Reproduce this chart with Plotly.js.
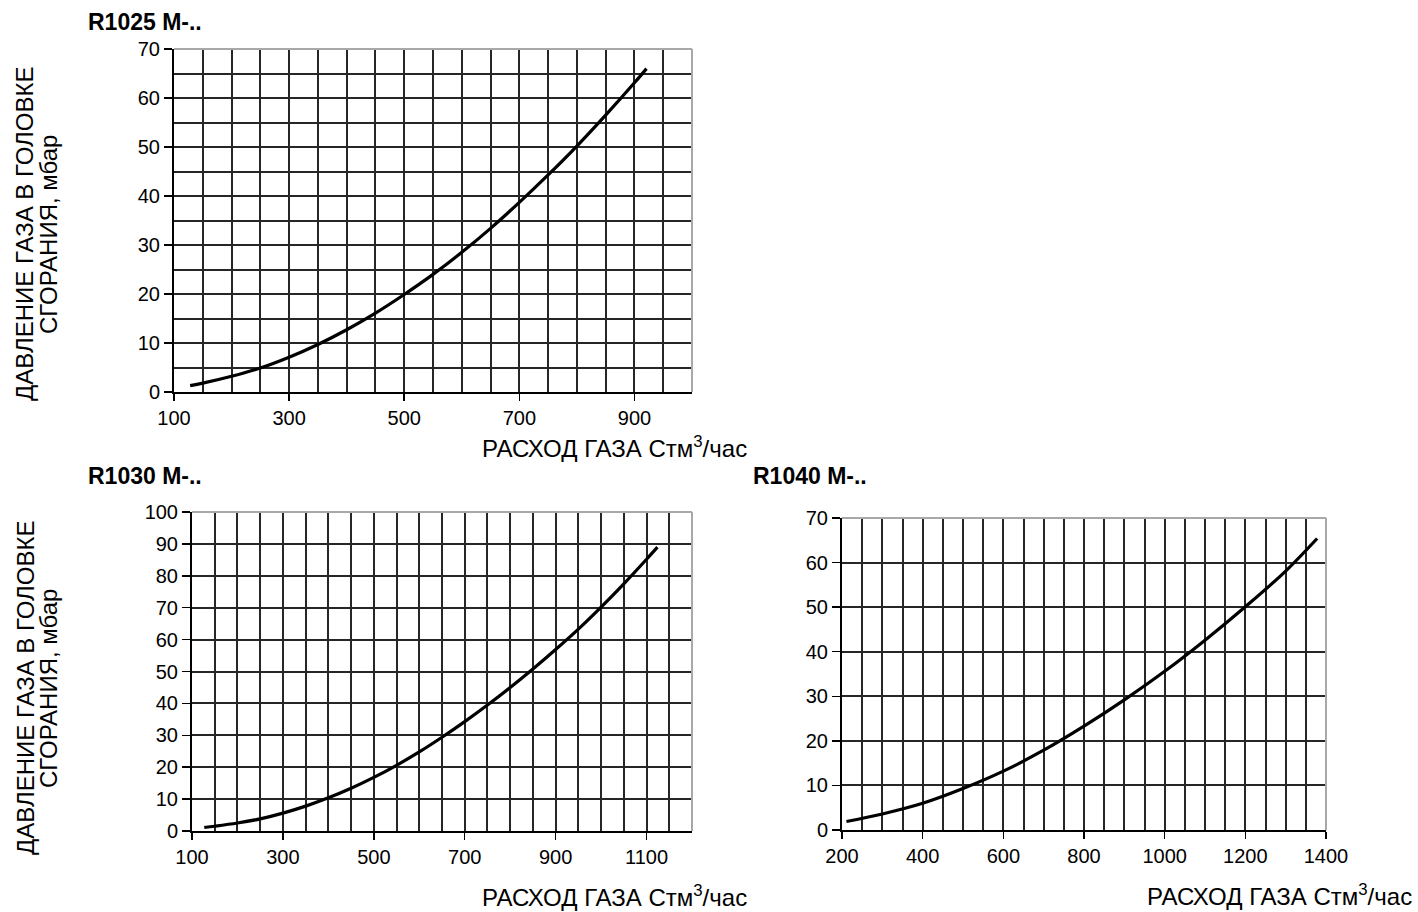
<!DOCTYPE html>
<html>
<head>
<meta charset="utf-8">
<script src="https://cdn.plot.ly/plotly-3.0.1.min.js"></script>
<style>html,body{margin:0;padding:0;background:#fff;}#chart{width:1418px;height:912px;}</style>
</head>
<body>
<div id="chart"></div>
<script>
// R1025 M-..
const r1025Flow = [128, 150, 200, 250, 300, 350, 400, 450, 500, 550, 600, 650, 700, 750, 800, 850, 900, 921];
const r1025Pressure = [1.3, 1.8, 3.2, 4.9, 7.1, 9.7, 12.7, 16.1, 19.9, 24.0, 28.5, 33.4, 38.7, 44.3, 50.2, 56.5, 63.1, 66.0];
// R1030 M-..
const r1030Flow = [127, 150, 200, 250, 300, 350, 400, 450, 500, 550, 600, 650, 700, 750, 800, 850, 900, 950, 1000, 1050, 1100, 1124];
const r1030Pressure = [1.1, 1.5, 2.5, 3.8, 5.6, 7.8, 10.4, 13.4, 16.8, 20.6, 24.8, 29.4, 34.3, 39.5, 45.0, 50.8, 56.9, 63.3, 70.2, 77.5, 85.2, 89.0];
// R1040 M-..
const r1040Flow = [211, 300, 400, 500, 600, 700, 800, 900, 1000, 1100, 1200, 1300, 1378];
const r1040Pressure = [1.9, 3.6, 6.0, 9.3, 13.2, 17.9, 23.3, 29.2, 35.6, 42.6, 50.1, 58.1, 65.4];

const chartTitles = ['R1025 M-..', 'R1030 M-..', 'R1040 M-..'];
const xTitle = 'РАСХОД ГАЗА Стм<sup>3</sup>/час';
const yTitleLines = ['ДАВЛЕНИЕ ГАЗА В ГОЛОВКЕ', 'СГОРАНИЯ, мбар'];

const FONT = 'Liberation Sans, Arial, sans-serif';
const W = 1418, H = 912;
function fx(px){return px / W;}
function fy(py){return 1 - py / H;}

const GRID = '#262626';
const lineStyle = {color: '#000', width: 3.2, shape: 'spline', smoothing: 1};
const traces = [
  {x: r1025Flow, y: r1025Pressure, xaxis: 'x', yaxis: 'y', mode: 'lines', line: lineStyle, hoverinfo: 'skip'},
  {x: r1030Flow, y: r1030Pressure, xaxis: 'x2', yaxis: 'y2', mode: 'lines', line: lineStyle, hoverinfo: 'skip'},
  {x: r1040Flow, y: r1040Pressure, xaxis: 'x3', yaxis: 'y3', mode: 'lines', line: lineStyle, hoverinfo: 'skip'}
];

function xAxis(domain, range, tick0, anchor) {
  return {
    domain: domain, range: range, anchor: anchor,
    tick0: tick0, dtick: 200, tickmode: 'linear',
    showgrid: true, gridcolor: GRID, gridwidth: 2,
    minor: {tick0: tick0, dtick: 50, showgrid: true, gridcolor: GRID, gridwidth: 2, ticks: ''},
    showline: true, linecolor: '#000', linewidth: 2,
    ticks: 'outside', ticklen: 7, tickcolor: '#000', tickwidth: 1.5,
    tickfont: {family: FONT, size: 20, color: '#000'},
    zeroline: false, fixedrange: true
  };
}
function yAxis(domain, range, minorStep, anchor) {
  const a = {
    domain: domain, range: range, anchor: anchor,
    tick0: 0, dtick: 10, tickmode: 'linear',
    showgrid: true, gridcolor: GRID, gridwidth: 2,
    showline: true, linecolor: '#000', linewidth: 2,
    ticks: 'outside', ticklen: 8, tickcolor: '#000', tickwidth: 1.5,
    tickfont: {family: FONT, size: 20, color: '#000'},
    zeroline: false, fixedrange: true
  };
  if (minorStep) a.minor = {tick0: 0, dtick: minorStep, showgrid: true, gridcolor: GRID, gridwidth: 2, ticks: ''};
  return a;
}

function border(ax) {
  return [
    {type: 'line', xref: 'x' + ax + ' domain', yref: 'y' + ax + ' domain', x0: 0, x1: 1, y0: 1, y1: 1, line: {color: '#a8a8a8', width: 2}, layer: 'above'},
    {type: 'line', xref: 'x' + ax + ' domain', yref: 'y' + ax + ' domain', x0: 1, x1: 1, y0: 0, y1: 1, line: {color: '#a8a8a8', width: 2}, layer: 'above'}
  ];
}

function yTitleAnn(cy) {
  return [
    {text: yTitleLines[0], xref: 'paper', yref: 'paper', x: fx(25), y: fy(cy), xanchor: 'center', yanchor: 'middle', textangle: -90, showarrow: false, font: {family: FONT, size: 24, color: '#000'}},
    {text: yTitleLines[1], xref: 'paper', yref: 'paper', x: fx(48), y: fy(cy + 1), xanchor: 'center', yanchor: 'middle', textangle: -90, showarrow: false, font: {family: FONT, size: 24, color: '#000'}}
  ];
}
function titleAnn(text, px, py) {
  return {text: '<b>' + text + '</b>', xref: 'paper', yref: 'paper', x: fx(px), y: fy(py), xanchor: 'left', yanchor: 'middle', showarrow: false, font: {family: FONT, size: 23, color: '#000'}};
}
function xTitleAnn(px, py) {
  return {text: xTitle, xref: 'paper', yref: 'paper', x: fx(px), y: fy(py), xanchor: 'center', yanchor: 'middle', showarrow: false, font: {family: FONT, size: 24, color: '#000'}};
}

const layout = {
  width: W, height: H,
  margin: {l: 0, r: 0, t: 0, b: 0},
  paper_bgcolor: '#fff', plot_bgcolor: '#fff',
  showlegend: false,
  xaxis: xAxis([fx(174), fx(692)], [100, 1000], 100, 'y'),
  yaxis: yAxis([fy(392), fy(49)], [0, 70], 5, 'x'),
  xaxis2: xAxis([fx(192), fx(692)], [100, 1200], 100, 'y2'),
  yaxis2: yAxis([fy(831), fy(512)], [0, 100], null, 'x2'),
  xaxis3: xAxis([fx(842), fx(1326)], [200, 1400], 200, 'y3'),
  yaxis3: yAxis([fy(830), fy(518)], [0, 70], null, 'x3'),
  shapes: [].concat(border(''), border('2'), border('3')),
  annotations: [
    titleAnn(chartTitles[0], 86, 22),
    titleAnn(chartTitles[1], 86, 476),
    titleAnn(chartTitles[2], 751, 476),
    xTitleAnn(614, 447),
    xTitleAnn(614, 896),
    xTitleAnn(1279, 895)
  ].concat(yTitleAnn(234), yTitleAnn(688))
};

Plotly.newPlot('chart', traces, layout, {displayModeBar: false, staticPlot: true});
</script>
</body>
</html>
